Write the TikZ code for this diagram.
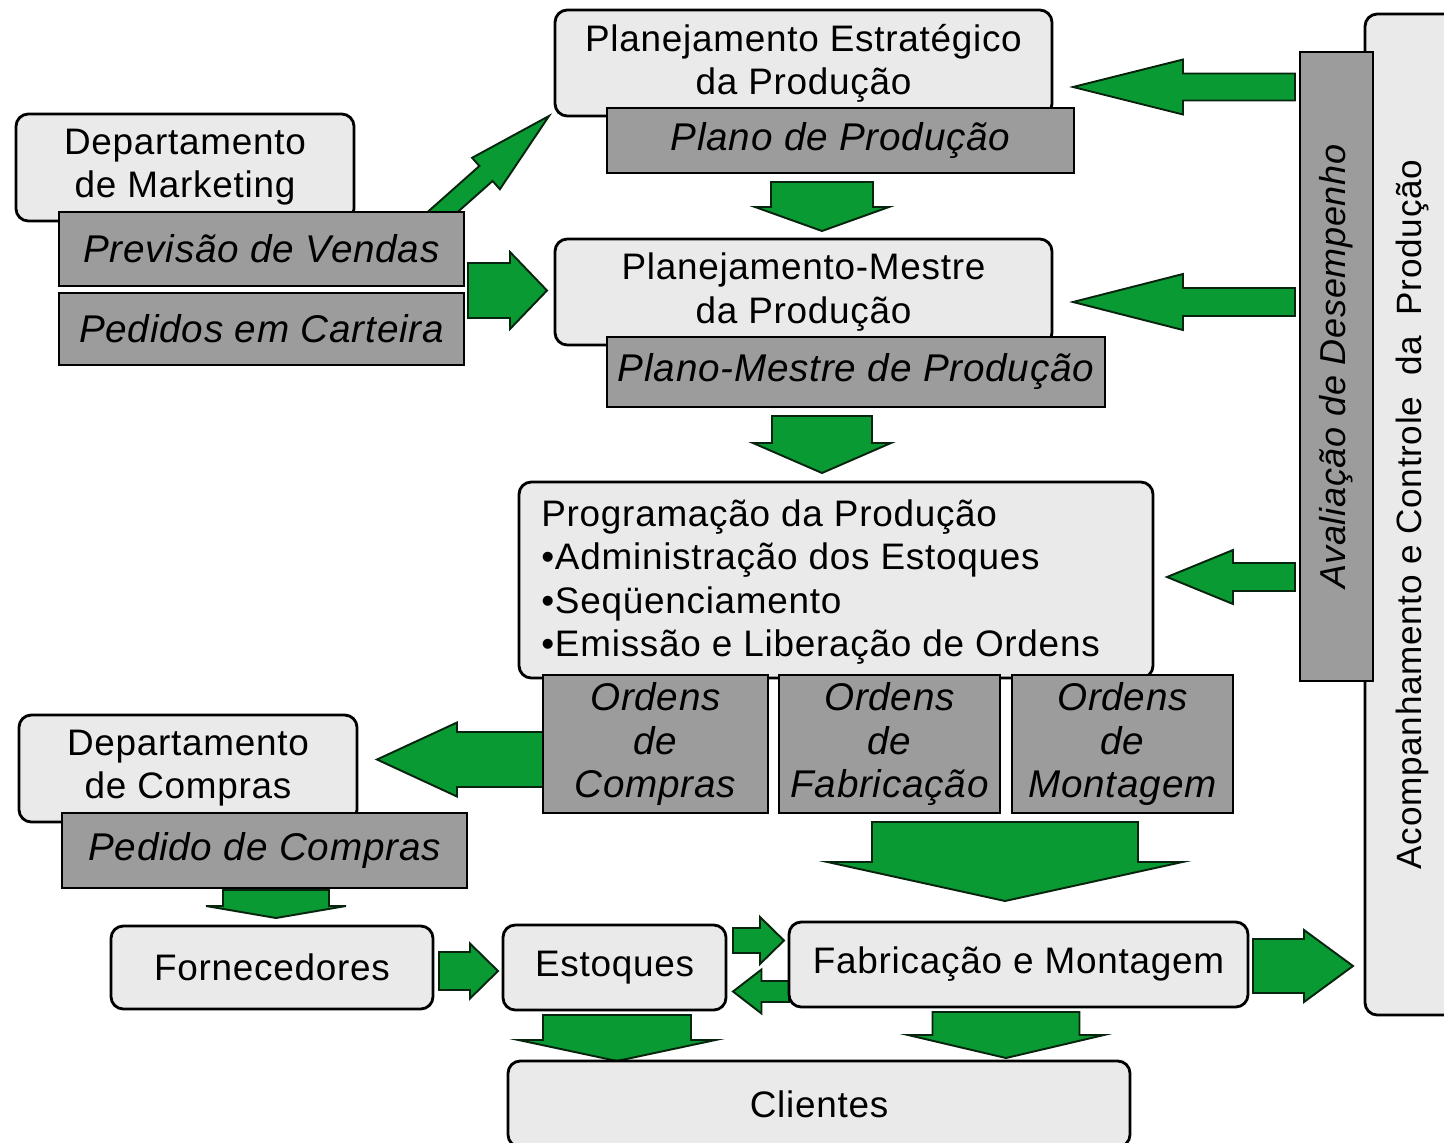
\documentclass[tikz,border=0pt]{standalone}
\usepackage{fontspec}
\setmainfont{Liberation Sans}[LetterSpace=2.0]
\definecolor{panel}{HTML}{EAEAEA}
\definecolor{slab}{HTML}{9C9C9C}
\definecolor{flow}{HTML}{0A9A33}
\definecolor{flowedge}{HTML}{06240E}
\tikzset{
  rbox/.style={draw=black, line width=1.6pt, fill=panel, rounded corners=7pt,
    inner sep=0pt, align=center, font=\fontsize{21}{24.6}\selectfont},
  gbox/.style={draw=black, line width=1.6pt, fill=slab, inner sep=0pt,
    align=center, font=\fontsize{22}{24.6}\selectfont\itshape},
  garrow/.style={fill=flow, draw=flowedge, line width=1.1pt, line join=miter},
}
% box node from its corner coordinates: style, name, x1, y1, x2, y2, text
\newcommand\panelnode[7]{%
  \node[#1, minimum width={(#5-#3)*0.02cm}, minimum height={(#6-#4)*0.02cm}]
    (#2) at ({(#3+#5)/2},{(#4+#6)/2}) {#7};}
% horizontal block arrow: tail x, head base x, tip x, centre y, shaft half, head half
\newcommand\harrow[6]{%
  \draw[garrow] ({#1},{#4-#5}) -- ({#2},{#4-#5}) -- ({#2},{#4-#6}) -- ({#3},{#4})
    -- ({#2},{#4+#6}) -- ({#2},{#4+#5}) -- ({#1},{#4+#5}) -- cycle;}
% vertical block arrow: centre x, tail y, head base y, tip y, shaft half, head half
\newcommand\varrow[6]{%
  \draw[garrow] ({#1-#5},{#2}) -- ({#1-#5},{#3}) -- ({#1-#6},{#3}) -- ({#1},{#4})
    -- ({#1+#6},{#3}) -- ({#1+#5},{#3}) -- ({#1+#5},{#2}) -- cycle;}
\begin{document}
\begin{tikzpicture}[x=0.02cm, y=-0.02cm]
\useasboundingbox (0,0) rectangle (1444,1143);
\clip (0,0) rectangle (1444,1143);

% side panels
\node[rbox, rotate=90, minimum width={1001*0.02cm}, minimum height={95*0.02cm},
  font=\fontsize{20}{24}\selectfont]
  (acomp) at (1412.5,514.5) {Acompanhamento e Controle \ da \ Produção};
\node[gbox, rotate=90, minimum width={629*0.02cm}, minimum height={73*0.02cm},
  font=\fontsize{20.5}{24}\selectfont\itshape]
  (aval) at (1336.5,366.5) {Avaliação de Desempenho};

% flow arrows
\draw[garrow] (421.4,217.5) -- (479.4,166) -- (472.1,157.8) -- (549,116)
  -- (499.9,189.2) -- (492.6,181) -- (434.6,232.5) -- cycle;
\harrow{468}{510}{547}{290.5}{27.5}{38.5}
\harrow{1295}{1183}{1073}{87}{13.5}{27.5}
\harrow{1295}{1183}{1073}{302}{14}{28}
\harrow{1295}{1233}{1167}{577}{14}{27}
\varrow{822}{182}{207}{231}{51}{67}
\varrow{822}{416}{443}{473}{50}{69}
\harrow{550}{457}{377}{759.5}{27.5}{37}
\varrow{276}{890}{906}{918}{53}{70}
\harrow{439}{470}{498}{971}{19}{27.5}
\harrow{733}{760}{784}{940.5}{12.5}{23.5}
\harrow{789}{761.5}{733}{991.5}{10.5}{22}
\harrow{1253}{1304}{1353}{966}{27}{36}
\varrow{1005}{822}{862}{901}{133}{177.5}
\varrow{617}{1015}{1040}{1061}{74}{98.5}
\varrow{1006}{1012}{1035}{1058}{73.5}{98}

% process boxes
\panelnode{rbox}{estrat}{555}{10}{1052}{116}{Planejamento Estratégico\\da Produção}
\panelnode{rbox}{mestre}{555}{239}{1052}{345}{Planejamento-Mestre\\da Produção}
\panelnode{rbox}{mkt}{16}{114}{354}{221}{Departamento\\de Marketing}
\panelnode{rbox}{prog}{519}{482}{1153}{678}{}
\node[anchor=west, align=left, inner sep=0pt, font=\fontsize{21}{24.6}\selectfont]
  (progtxt) at (541,582) {Programação da Produção\\•Administração dos Estoques\\•Seqüenciamento\\•Emissão e Liberação de Ordens};
\panelnode{rbox}{compras}{19}{715}{357}{822}{Departamento\\de Compras}
\panelnode{rbox}{forn}{111}{926}{433}{1009}{Fornecedores}
\panelnode{rbox}{estoq}{503}{925}{726}{1010}{Estoques}
\panelnode{rbox}{fab}{789}{922}{1248}{1007}{Fabricação e Montagem}
\panelnode{rbox}{cli}{508}{1061}{1130}{1147}{Clientes}

% output documents
\panelnode{gbox}{plano}{607}{108}{1074}{173}{Plano de Produção}
\panelnode{gbox}{pmp}{607}{337}{1105}{407}{Plano-Mestre de Produção}
\panelnode{gbox}{prev}{59}{212}{464}{286}{Previsão de Vendas}
\panelnode{gbox}{ped}{59}{293}{464}{365}{Pedidos em Carteira}
\panelnode{gbox}{ocomp}{543}{675}{768}{813}{Ordens\\de\\Compras}
\panelnode{gbox}{ofab}{779}{675}{1000}{813}{Ordens\\de\\Fabricação}
\panelnode{gbox}{omont}{1012}{675}{1233}{813}{Ordens\\de\\Montagem}
\panelnode{gbox}{pedc}{62}{813}{467}{888}{Pedido de Compras}
\end{tikzpicture}
\end{document}
